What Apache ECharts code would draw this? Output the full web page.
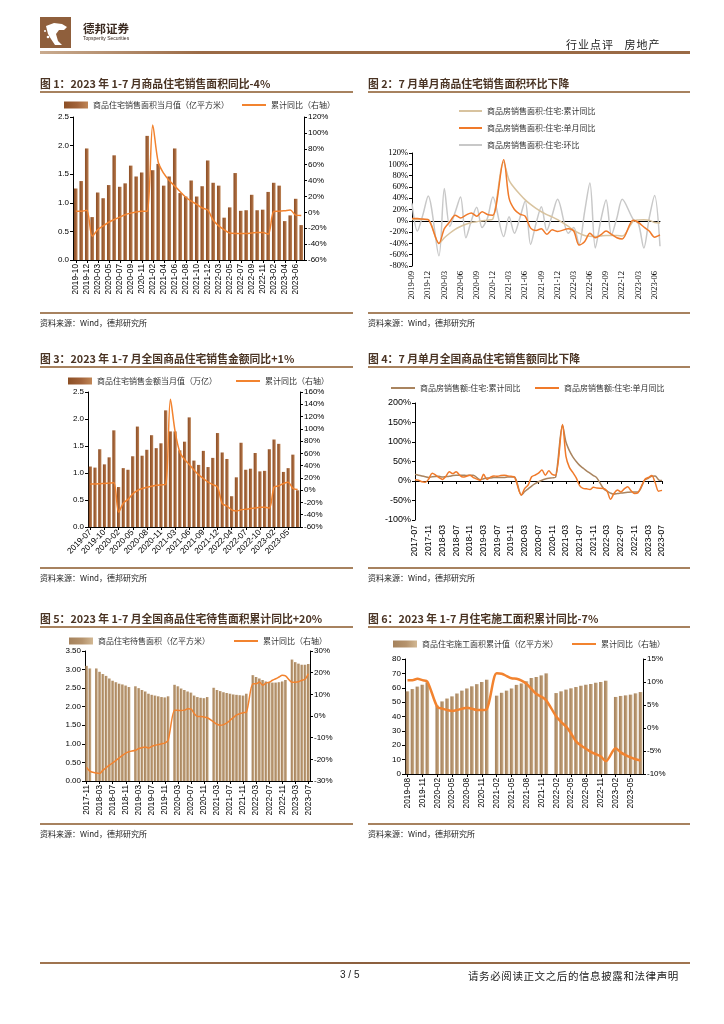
<!DOCTYPE html>
<html><head><meta charset="utf-8">
<script src="https://cdn.jsdelivr.net/npm/echarts/dist/echarts.min.js"></script>
<style>
body{margin:0;width:724px;height:1024px;position:relative;background:#fff;font-family:'Noto Sans CJK SC',sans-serif;overflow:hidden}
#c{position:absolute;left:0;top:0;width:724px;height:1024px}
.t{position:absolute;white-space:nowrap;z-index:2}
.ln{position:absolute;z-index:2}
.ttl{font-size:10.8px;font-weight:bold;color:#4a3424}
.src{font-size:8px;color:#222}
</style></head><body>
<div id="c"></div>
<svg class="ln" style="left:40px;top:17px" width="31" height="31" viewBox="0 0 31 31">
<rect width="31" height="31" fill="#8f5f3c"/>
<path d="M6 9 L14 6 L22 7 L27 10 L24 13 L19 13 L16 17 L18 24 L22 28 L15 28 L11 22 L8 17 Z" fill="#fff"/>
<circle cx="8" cy="20" r="1.3" fill="#fff"/><circle cx="5" cy="14" r="1" fill="#fff"/>
</svg>
<div class="t" style="left:83px;top:20px;font-size:11.5px;font-weight:bold;color:#3a2a20">德邦证券</div>
<div class="t" style="left:83px;top:35px;font-size:5px;color:#3a2a20;font-family:'Liberation Sans'">Topsperity Securities</div>
<div class="t" style="left:566px;top:36px;font-size:11px;color:#222;letter-spacing:1px">行业点评&nbsp;&nbsp;&nbsp;房地产</div>
<div class="ln" style="left:40px;top:51px;width:650px;height:3px;background:linear-gradient(to right,#c9ab8f,#9a6a45 25%,#9a6a45)"></div>

<div class="t ttl" style="left:40px;top:75px">图 1：2023 年 1-7 月商品住宅销售面积同比-4%</div>
<div class="t ttl" style="left:368px;top:75px">图 2：7 月单月商品住宅销售面积环比下降</div>
<div class="ln" style="left:40px;top:91px;width:313px;height:1.5px;background:#a7825f"></div>
<div class="ln" style="left:368px;top:91px;width:322px;height:1.5px;background:#a7825f"></div>

<div class="ln" style="left:40px;top:312px;width:313px;height:1.5px;background:#a7825f"></div>
<div class="ln" style="left:368px;top:312px;width:322px;height:1.5px;background:#a7825f"></div>
<div class="t src" style="left:40px;top:317px">资料来源：Wind，德邦研究所</div>
<div class="t src" style="left:368px;top:317px">资料来源：Wind，德邦研究所</div>

<div class="t ttl" style="left:40px;top:350px">图 3：2023 年 1-7 月全国商品住宅销售金额同比+1%</div>
<div class="t ttl" style="left:368px;top:350px">图 4：7 月单月全国商品住宅销售额同比下降</div>
<div class="ln" style="left:40px;top:366px;width:313px;height:1.5px;background:#a7825f"></div>
<div class="ln" style="left:368px;top:366px;width:322px;height:1.5px;background:#a7825f"></div>

<div class="ln" style="left:40px;top:567px;width:313px;height:1.5px;background:#a7825f"></div>
<div class="ln" style="left:368px;top:567px;width:322px;height:1.5px;background:#a7825f"></div>
<div class="t src" style="left:40px;top:572px">资料来源：Wind，德邦研究所</div>
<div class="t src" style="left:368px;top:572px">资料来源：Wind，德邦研究所</div>

<div class="t ttl" style="left:40px;top:610px">图 5：2023 年 1-7 月全国商品住宅待售面积累计同比+20%</div>
<div class="t ttl" style="left:368px;top:610px">图 6：2023 年 1-7 月住宅施工面积累计同比-7%</div>
<div class="ln" style="left:40px;top:626px;width:313px;height:1.5px;background:#a7825f"></div>
<div class="ln" style="left:368px;top:626px;width:322px;height:1.5px;background:#a7825f"></div>

<div class="ln" style="left:40px;top:823px;width:313px;height:1.5px;background:#a7825f"></div>
<div class="ln" style="left:368px;top:823px;width:322px;height:1.5px;background:#a7825f"></div>
<div class="t src" style="left:40px;top:828px">资料来源：Wind，德邦研究所</div>
<div class="t src" style="left:368px;top:828px">资料来源：Wind，德邦研究所</div>

<div class="ln" style="left:40px;top:962px;width:650px;height:2px;background:linear-gradient(to right,#a07550,#8b5f3e 50%,#a07550)"></div>
<div class="t" style="left:340px;top:969px;font-size:10px;color:#222;font-family:'Liberation Sans'">3 / 5</div>
<div class="t" style="left:468px;top:968px;font-size:10.5px;color:#222;letter-spacing:0.6px">请务必阅读正文之后的信息披露和法律声明</div>

<script>
// ---------- DATA ----------
const cat1 = ['2019-10','2019-11','2019-12','2020-02','2020-03','2020-04','2020-05','2020-06','2020-07','2020-08','2020-09','2020-10','2020-11','2020-12','2021-02','2021-03','2021-04','2021-05','2021-06','2021-07','2021-08','2021-09','2021-10','2021-11','2021-12','2022-02','2022-03','2022-04','2022-05','2022-06','2022-07','2022-08','2022-09','2022-10','2022-11','2022-12','2023-02','2023-03','2023-04','2023-05','2023-06','2023-07'];
const area1 = [1.25,1.38,1.95,0.75,1.18,1.08,1.31,1.83,1.28,1.34,1.65,1.46,1.53,2.17,1.57,1.68,1.30,1.46,1.95,1.17,1.11,1.39,1.11,1.29,1.74,1.35,1.30,0.74,0.92,1.52,0.86,0.87,1.14,0.87,0.88,1.19,1.35,1.30,0.68,0.78,1.07,0.61];
const yoy1 = [1.3,1.3,2.5,-30,-22,-17,-12.5,-9,-6,-3,-1,0.5,1.3,1.5,110,63,49,40,33,26,19,14,10,5.5,3,-10,-17,-22,-26,-26.5,-26.5,-26.5,-26,-25.5,-25.5,-27.5,1,1.3,2,2.8,-3.5,-4];

const cat2 = ['2019-09','2019-10','2019-11','2019-12','2020-01','2020-02','2020-03','2020-04','2020-05','2020-06','2020-07','2020-08','2020-09','2020-10','2020-11','2020-12','2021-01','2021-02','2021-03','2021-04','2021-05','2021-06','2021-07','2021-08','2021-09','2021-10','2021-11','2021-12','2022-01','2022-02','2022-03','2022-04','2022-05','2022-06','2022-07','2022-08','2022-09','2022-10','2022-11','2022-12','2023-01','2023-02','2023-03','2023-04','2023-05','2023-06','2023-07'];
const cum2 = [2.5,2.5,2.5,2.5,null,-40,-30,-22,-15,-10,-6,-3,-1.5,0,1,3,null,104,72,58,47,37,29,22,16,11,7,2,null,-10,-17,-22,-26,-27.5,-28,-27,-26,-26,-26,-27,null,-1,1.5,2,1,-3,-4];
const mom2 = [4,4,3,2,null,-40,-14,-2,10,5,10,14,8,16,11,10,null,108,40,20,12,8,-13,-17,-14,-24,-16,-19,null,-14,-18,-43,-37,-22,-30,-25,-18,-24,-30,-32,null,1,-3,-11,-18,-29,-25];
const ring2 = [31,-18,10,44,null,-62,57,-10,15,42,-30,0,24,-12,5,42,null,-28,7,-22,5,35,-42,-5,25,-17,10,38,null,-22,-12,-42,15,67,-48,0,37,-25,5,38,null,3,-5,-48,5,45,-45];

const cat3 = ['2019-07','2019-08','2019-09','2019-10','2019-11','2019-12','2020-02','2020-03','2020-04','2020-05','2020-06','2020-07','2020-08','2020-09','2020-10','2020-11','2020-12','2021-02','2021-03','2021-04','2021-05','2021-06','2021-07','2021-08','2021-09','2021-10','2021-11','2021-12','2022-02','2022-03','2022-04','2022-05','2022-06','2022-07','2022-08','2022-09','2022-10','2022-11','2022-12','2023-02','2023-03','2023-04','2023-05','2023-06','2023-07'];
const value3 = [1.12,1.10,1.44,1.16,1.29,1.79,0.74,1.09,1.06,1.31,1.86,1.32,1.43,1.70,1.46,1.55,2.16,1.77,1.77,1.42,1.58,2.03,1.23,1.15,1.41,1.11,1.28,1.74,1.38,1.26,0.57,0.92,1.56,1.06,1.08,1.37,1.03,1.04,1.44,1.62,1.54,1.02,1.09,1.34,0.68];
const yoy3 = [10,10,10.5,11,11.5,12,-36,-21,-15,-6,-0.5,2.7,4.9,6.5,8,8.6,9.2,148,95,62,50,42,33,25,19,13,9,5,-22,-26,-32,-34,-32,-31,-30,-29,-28,-28,-29,5,7,11,13,3,1];

const cat4 = ['2017-07','2017-08','2017-09','2017-10','2017-11','2017-12','2018-01','2018-02','2018-03','2018-04','2018-05','2018-06','2018-07','2018-08','2018-09','2018-10','2018-11','2018-12','2019-01','2019-02','2019-03','2019-04','2019-05','2019-06','2019-07','2019-08','2019-09','2019-10','2019-11','2019-12','2020-01','2020-02','2020-03','2020-04','2020-05','2020-06','2020-07','2020-08','2020-09','2020-10','2020-11','2020-12','2021-01','2021-02','2021-03','2021-04','2021-05','2021-06','2021-07','2021-08','2021-09','2021-10','2021-11','2021-12','2022-01','2022-02','2022-03','2022-04','2022-05','2022-06','2022-07','2022-08','2022-09','2022-10','2022-11','2022-12','2023-01','2023-02','2023-03','2023-04','2023-05','2023-06','2023-07'];
const cum4 = [17,15,13,11,9,11,null,12,10,11,12,14,15,15,15,14,15,15,null,3,6,8,8,9,9,9,9,10,10,10,null,-36,-27,-20,-13,-7,-2,2,5,7,8,10,null,143,100,78,62,50,40,33,26,20,14,8,null,-20,-26,-31,-34,-32,-31,-30,-29,-28,-28,-28,null,3,7,12,13,3,1];
const mom4 = [3,2,-2,-3,5,20,null,9,4,12,24,19,24,15,10,12,15,9,null,2,17,4,10,13,12,14,15,13,12,10,null,-36,-19,-10,11,15,20,28,15,26,17,15,null,145,63,35,22,8,-12,-19,-20,-22,-16,-18,null,-19,-26,-47,-32,-23,-28,-20,-15,-25,-32,-30,null,4,9,14,-4,-26,-24];

const cat5 = ['2017-11','2017-12','2018-01','2018-02','2018-03','2018-04','2018-05','2018-06','2018-07','2018-08','2018-09','2018-10','2018-11','2018-12','2019-01','2019-02','2019-03','2019-04','2019-05','2019-06','2019-07','2019-08','2019-09','2019-10','2019-11','2019-12','2020-01','2020-02','2020-03','2020-04','2020-05','2020-06','2020-07','2020-08','2020-09','2020-10','2020-11','2020-12','2021-01','2021-02','2021-03','2021-04','2021-05','2021-06','2021-07','2021-08','2021-09','2021-10','2021-11','2021-12','2022-01','2022-02','2022-03','2022-04','2022-05','2022-06','2022-07','2022-08','2022-09','2022-10','2022-11','2022-12','2023-01','2023-02','2023-03','2023-04','2023-05','2023-06','2023-07'];
const stock5 = [3.10,3.03,null,3.03,2.94,2.88,2.83,2.76,2.70,2.66,2.62,2.60,2.57,2.53,null,2.55,2.50,2.45,2.41,2.35,2.32,2.30,2.28,2.26,2.25,2.28,null,2.59,2.55,2.49,2.45,2.41,2.38,2.30,2.26,2.24,2.23,2.26,null,2.51,2.45,2.42,2.39,2.37,2.35,2.33,2.32,2.31,2.30,2.35,null,2.85,2.80,2.76,2.72,2.68,2.66,2.65,2.65,2.66,2.68,2.72,null,3.27,3.20,3.16,3.13,3.13,3.15];
const yoy5 = [-23.7,-25.5,null,-26.3,-26.5,-25,-23.8,-22.7,-21.6,-20.5,-19.3,-18.2,-17.1,-16.5,null,-15.8,-15,-14.6,-14.3,-14.8,-14,-13.5,-13.2,-12.8,-12.5,-11.2,null,2.7,2.6,2.5,2.7,3.3,3.2,1.1,-0.2,-0.2,-0.5,-0.8,null,-2.8,-3.8,-4.3,-4.0,-3.2,-2.0,-0.7,0.5,1.1,1.5,1.8,null,14.9,14.9,15.7,14.2,15.2,15.6,16.5,17.2,18,18.8,18.5,null,15.6,15.6,15.8,16.5,17,19.5];

const cat6 = ['2019-08','2019-09','2019-10','2019-11','2019-12','2020-01','2020-02','2020-03','2020-04','2020-05','2020-06','2020-07','2020-08','2020-09','2020-10','2020-11','2020-12','2021-01','2021-02','2021-03','2021-04','2021-05','2021-06','2021-07','2021-08','2021-09','2021-10','2021-11','2021-12','2022-01','2022-02','2022-03','2022-04','2022-05','2022-06','2022-07','2022-08','2022-09','2022-10','2022-11','2022-12','2023-01','2023-02','2023-03','2023-04','2023-05','2023-06','2023-07'];
const area6 = [57.5,59.1,60.8,62.1,63.8,null,47.6,50.5,52.5,54,56,58,59.5,61,62.5,64,65.6,null,54.5,56.5,58,59.5,62,63,64.5,66.8,67.5,68.6,70,null,56.3,57.5,58.7,59.6,60.5,61.4,62.1,62.6,63.5,64.0,64.9,null,53.6,54.3,54.7,55.2,56.1,57.0];
const yoy6 = [10.4,10.4,10.7,10.4,10.1,null,4.6,4.2,3.9,3.7,3.9,4.2,4.4,4.2,3.9,3.9,4.1,null,11.9,11.8,11.3,10.8,10.7,10.3,9.6,8.5,7.4,6.8,6.0,null,2.5,1.3,0.3,-1.2,-2.9,-3.8,-4.5,-5.2,-5.7,-6.2,-7.2,null,-4.4,-5.3,-5.9,-6.4,-6.8,-7.1];

// ---------- NAMES ----------
const N1b = '商品住宅销售面积当月值（亿平方米）', NL = '累计同比（右轴）';
const N2a = '商品房销售面积:住宅:累计同比', N2b = '商品房销售面积:住宅:单月同比', N2c = '商品房销售面积:住宅:环比';
const N3b = '商品住宅销售金额当月值（万亿）';
const N4a = '商品房销售额:住宅:累计同比', N4b = '商品房销售额:住宅:单月同比';
const N5b = '商品住宅待售面积（亿平方米）';
const N6b = '商品住宅施工面积累计值（亿平方米）';

// ---------- STYLE ----------
const ORANGE = '#f2832f';
const BROWN = {type:'linear',x:0,y:0,x2:1,y2:0,colorStops:[{offset:0,color:'#8c4f25'},{offset:0.55,color:'#a2633a'},{offset:1,color:'#c08656'}]};
const TAN = {type:'linear',x:0,y:0,x2:1,y2:0,colorStops:[{offset:0,color:'#a5825c'},{offset:0.55,color:'#b5936d'},{offset:1,color:'#d2b894'}]};
const SANS = 'Liberation Sans, Arial, sans-serif';
const SERIF = 'Liberation Serif, Times New Roman, serif';
const lbl = {color:'#000', fontSize:8, fontFamily:SANS};
const xlbl = {color:'#000', fontSize:8.3, fontFamily:SANS};
const slbl = {color:'#000', fontSize:8.5, fontFamily:SERIF};
const axL = {show:true, onZero:false, lineStyle:{color:'#000', width:1}};
const tk = {show:true, length:3, lineStyle:{color:'#000'}};
const noSplit = {show:false};
const pct = '{value}%';

function cat(grid, data, rot, iv, extra) {
  return Object.assign({gridIndex:grid, type:'category', data:data, position:'bottom',
    axisLine:axL, axisTick:Object.assign({}, tk, {interval:iv, alignWithLabel:true}),
    axisLabel:Object.assign({}, xlbl, {rotate:rot, interval:iv, margin:4}), splitLine:noSplit}, extra || {});
}
function val(grid, min, max, iv, pos, fmt, lab) {
  return {gridIndex:grid, type:'value', min:min, max:max, interval:iv, position:pos,
    axisLine:{show:true, lineStyle:{color:'#000'}}, axisTick:tk, splitLine:noSplit,
    axisLabel:Object.assign({}, lab || lbl, {formatter:fmt, margin:4})};
}
function leg(name, left, top, w, isLine) {
  return {data:[{name:name, icon:'rect'}], left:left, top:top, itemWidth:w || 24,
    itemHeight:isLine ? 2 : 7, itemGap:0, padding:0,
    selectedMode:false, textStyle:{fontSize:8, color:'#333', fontFamily:'Noto Sans CJK SC'}};
}
function line(name, xi, yi, data, color, w, z) {
  return {name:name, type:'line', xAxisIndex:xi, yAxisIndex:yi, data:data, smooth:0.3, symbol:'none',
    connectNulls:true, lineStyle:{color:color, width:w}, itemStyle:{color:color}, z:z || 3};
}
function bar(name, xi, yi, data, color, gap) {
  return {name:name, type:'bar', xAxisIndex:xi, yAxisIndex:yi, data:data, itemStyle:{color:color},
    barCategoryGap:gap, z:2};
}

const chart = echarts.init(document.getElementById('c'), null, {renderer:'canvas'});
chart.setOption({
  animation:false,
  grid:[
    {left:73, top:117, width:231, height:143},
    {left:412, top:153, width:248, height:113},
    {left:88, top:392, width:212, height:135},
    {left:415, top:403, width:247, height:117},
    {left:85, top:651, width:225, height:130},
    {left:405, top:659, width:238, height:115}
  ],
  xAxis:[
    cat(0, cat1, 90, 1),
    {gridIndex:1, type:'category', data:cat2, boundaryGap:false, position:'bottom',
      axisLine:{show:false, onZero:false}, axisTick:{show:false},
      axisLabel:Object.assign({}, slbl, {rotate:90, interval:2, margin:5})},
    cat(2, cat3, 45, 2),
    {gridIndex:3, type:'category', data:cat4, boundaryGap:false, position:'bottom',
      axisLine:{show:false, onZero:false}, axisTick:{show:false},
      axisLabel:Object.assign({}, xlbl, {fontSize:8.6, rotate:90, interval:3, margin:5})},
    {gridIndex:3, type:'category', data:cat4, boundaryGap:false, position:'bottom',
      axisLine:{show:true, onZero:true, lineStyle:{color:'#000'}},
      axisTick:{show:true, length:3, interval:3, lineStyle:{color:'#000'}}, axisLabel:{show:false}},
    cat(4, cat5, 90, 3),
    cat(5, cat6, 90, 2),
    {gridIndex:1, type:'category', data:cat2, boundaryGap:false, position:'bottom',
      axisLine:{show:true, onZero:true, lineStyle:{color:'#000'}}, axisTick:{show:false}, axisLabel:{show:false}}
  ],
  yAxis:[
    val(0, 0, 2.5, 0.5, 'left', v => v.toFixed(1)),
    val(0, -60, 120, 20, 'right', pct),
    val(1, -80, 120, 20, 'left', pct, slbl),
    val(2, 0, 2.5, 0.5, 'left', v => v.toFixed(1)),
    val(2, -60, 160, 20, 'right', pct),
    val(3, -100, 200, 50, 'left', pct, {color:'#000', fontSize:9, fontFamily:SANS}),
    val(4, 0, 3.5, 0.5, 'left', v => v.toFixed(2)),
    val(4, -30, 30, 10, 'right', pct),
    val(5, 0, 80, 10, 'left', v => String(v)),
    val(5, -10, 15, 5, 'right', pct)
  ],
  legend:[
    leg(N1b, 64, 101), leg(NL, 242, 101, 24, true),
    leg(N2a, 459, 107, 23, true), leg(N2b, 459, 124, 23, true), leg(N2c, 459, 141, 23, true),
    leg(N3b, 68, 377), leg(NL, 236, 377, 24, true),
    leg(N4a, 391, 384, 24, true), leg(N4b, 535, 384, 24, true),
    leg(N5b, 69, 637), leg(NL, 234, 637, 24, true),
    leg(N6b, 393, 640), leg(NL, 572, 640, 24, true)
  ],
  series:[
    bar(N1b, 0, 0, area1, BROWN, '35%'),
    line(NL, 0, 1, yoy1, ORANGE, 1.5),
    line(N2c, 1, 2, ring2, '#c8c8c8', 1.5, 2),
    line(N2a, 1, 2, cum2, '#d8c39f', 1.5, 3),
    line(N2b, 1, 2, mom2, '#f07a2a', 1.5, 4),
    bar(N3b, 2, 3, value3, BROWN, '32%'),
    line(NL, 2, 4, yoy3, ORANGE, 1.5),
    line(N4a, 3, 5, cum4, '#a9845f', 1.5, 3),
    line(N4b, 3, 5, mom4, '#f07a2a', 1.5, 4),
    bar(N5b, 5, 6, stock5, TAN, '18%'),
    line(NL, 5, 7, yoy5, ORANGE, 1.5),
    bar(N6b, 6, 8, area6, TAN, '28%'),
    line(NL, 6, 9, yoy6, ORANGE, 2.5)
  ]
});
</script>
</body></html>
